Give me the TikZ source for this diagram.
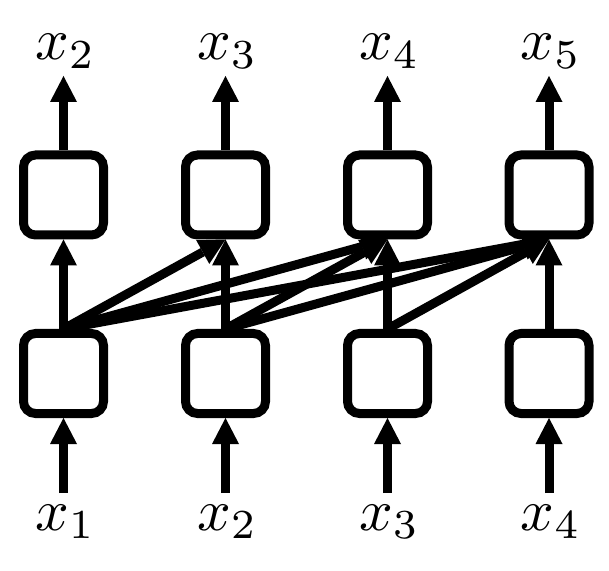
\documentclass[tikz,border=0pt]{standalone}
\usetikzlibrary{arrows.meta}
\begin{document}
\begin{tikzpicture}[x=1pt,y=1pt,
  cell/.style={draw=black,line width=9pt,rounded corners=12pt,minimum width=80pt,minimum height=80pt,inner sep=0pt,fill=white},
  conn/.style={line width=9pt,-{Triangle[length=26pt,width=27pt,line width=0pt]}},
  lbl/.style={inner sep=0pt,anchor=base,scale=5.9}]
\useasboundingbox (0,0) rectangle (609,570);
% column x positions
\foreach \i/\x in {1/63.5,2/225.5,3/387.5,4/549}{
  \node[cell] (t\i) at (\x,375) {};
  \node[cell] (b\i) at (\x,196.5) {};
  \coordinate (ot\i) at (\x,494);
  \coordinate (ib\i) at (\x,77);
}
% labels
\node[lbl] (o1) at (65.5,510) {$x_{2}$};
\node[lbl] (o2) at (227.5,510) {$x_{3}$};
\node[lbl] (o3) at (389.5,510) {$x_{4}$};
\node[lbl] (o4) at (551,510) {$x_{5}$};
\node[lbl] (i1) at (65.5,40) {$x_{1}$};
\node[lbl] (i2) at (227.5,40) {$x_{2}$};
\node[lbl] (i3) at (389.5,40) {$x_{3}$};
\node[lbl] (i4) at (551,40) {$x_{4}$};
% diagonal connections
\draw[conn] (b1.north) -- (t2.south);
\draw[conn] (b1.north) -- (t3.south);
\draw[conn] (b1.north) -- (t4.south);
\draw[conn] (b2.north) -- (t3.south);
\draw[conn] (b2.north) -- (t4.south);
\draw[conn] (b3.north) -- (t4.south);
% vertical connections
\foreach \i in {1,2,3,4}{
  \draw[conn] (b\i.north) -- (t\i.south);
  \draw[conn] (t\i.north) -- (ot\i);
  \draw[conn] (ib\i) -- (b\i.south);
}
\end{tikzpicture}
\end{document}
